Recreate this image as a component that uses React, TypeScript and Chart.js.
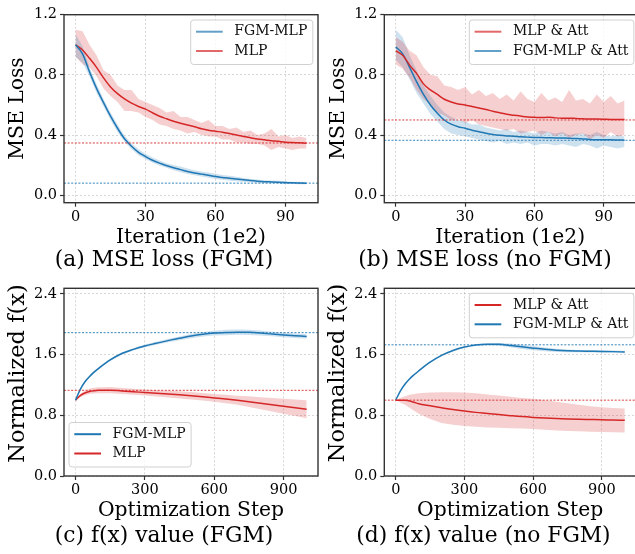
import React, { useEffect, useRef } from "react";
import { Chart, registerables } from "chart.js";

Chart.register(...registerables);

const FONT = "'DejaVu Serif', 'Liberation Serif', serif";
const BLUE = "#1f77b4";
const RED = "#d62728";
const BLUE_BAND = "rgba(31,119,180,0.22)";
const RED_BAND = "rgba(214,39,40,0.22)";

// ---------- shared axis ticks ----------
const lossXTicks = [0, 30, 60, 90];
const lossXTickLabels = ["0", "30", "60", "90"];
const lossYTicks = [0, 0.4, 0.8, 1.2];
const lossYTickLabels = ["0.0", "0.4", "0.8", "1.2"];
const fxXTicks = [0, 300, 600, 900];
const fxXTickLabels = ["0", "300", "600", "900"];
const fxYTicks = [0, 0.8, 1.6, 2.4];
const fxYTickLabels = ["0.0", "0.8", "1.6", "2.4"];

// ---------- panel (a) & (b): iterations (1e2) ----------
const lossIters = [0, 3, 6, 9, 12, 15, 18, 21, 24, 27, 30, 33, 36, 39, 42, 45, 48, 51, 54, 57, 60, 63, 66, 69, 72, 75, 78, 81, 84, 87, 90, 93, 96, 99];

// (a) FGM-MLP
const aFgmMean = [1.0, 0.94, 0.82, 0.71, 0.615, 0.525, 0.445, 0.375, 0.325, 0.285, 0.257, 0.232, 0.213, 0.197, 0.182, 0.17, 0.158, 0.148, 0.14, 0.132, 0.124, 0.118, 0.112, 0.107, 0.102, 0.097, 0.093, 0.09, 0.088, 0.086, 0.084, 0.082, 0.081, 0.08];
const aFgmUpper = [1.07, 0.99, 0.85, 0.74, 0.64, 0.55, 0.47, 0.395, 0.345, 0.305, 0.275, 0.25, 0.23, 0.213, 0.2, 0.19, 0.178, 0.165, 0.158, 0.15, 0.142, 0.134, 0.13, 0.122, 0.115, 0.108, 0.104, 0.1, 0.098, 0.096, 0.093, 0.09, 0.09, 0.088];
const aFgmLower = [0.92, 0.88, 0.79, 0.68, 0.59, 0.5, 0.42, 0.355, 0.305, 0.265, 0.24, 0.215, 0.197, 0.183, 0.166, 0.152, 0.14, 0.132, 0.124, 0.116, 0.108, 0.103, 0.096, 0.093, 0.09, 0.086, 0.083, 0.081, 0.079, 0.077, 0.075, 0.074, 0.073, 0.072];
// (a) MLP
const aMlpMean = [1.0, 0.965, 0.91, 0.85, 0.78, 0.72, 0.675, 0.64, 0.612, 0.59, 0.572, 0.548, 0.525, 0.508, 0.492, 0.478, 0.466, 0.455, 0.442, 0.432, 0.425, 0.419, 0.41, 0.4, 0.39, 0.382, 0.374, 0.368, 0.362, 0.358, 0.352, 0.35, 0.348, 0.346];
const aMlpUpper = [1.1, 1.09, 1.0, 0.93, 0.83, 0.8, 0.73, 0.7, 0.7, 0.64, 0.62, 0.6, 0.58, 0.55, 0.56, 0.52, 0.52, 0.5, 0.48, 0.5, 0.46, 0.46, 0.44, 0.45, 0.42, 0.43, 0.4, 0.41, 0.44, 0.39, 0.4, 0.38, 0.39, 0.38];
const aMlpLower = [0.92, 0.87, 0.85, 0.79, 0.71, 0.66, 0.62, 0.56, 0.56, 0.55, 0.52, 0.5, 0.47, 0.46, 0.44, 0.43, 0.41, 0.42, 0.4, 0.39, 0.39, 0.37, 0.37, 0.35, 0.35, 0.34, 0.34, 0.33, 0.3, 0.32, 0.31, 0.3, 0.31, 0.31];
const aRefValues = [0.08, 0.347];

// (b) FGM-MLP & Att
const bFgmMean = [0.985, 0.94, 0.85, 0.755, 0.67, 0.6, 0.545, 0.5, 0.472, 0.455, 0.445, 0.432, 0.422, 0.412, 0.404, 0.398, 0.394, 0.392, 0.388, 0.386, 0.384, 0.383, 0.382, 0.381, 0.38, 0.379, 0.377, 0.374, 0.371, 0.369, 0.368, 0.368, 0.367, 0.366];
const bFgmUpper = [1.1, 1.05, 0.93, 0.83, 0.73, 0.66, 0.6, 0.55, 0.52, 0.5, 0.49, 0.47, 0.47, 0.45, 0.44, 0.43, 0.44, 0.42, 0.43, 0.42, 0.41, 0.43, 0.42, 0.41, 0.42, 0.4, 0.41, 0.41, 0.4, 0.42, 0.4, 0.39, 0.4, 0.39];
const bFgmLower = [0.9, 0.85, 0.77, 0.68, 0.61, 0.54, 0.49, 0.44, 0.41, 0.4, 0.39, 0.38, 0.37, 0.36, 0.35, 0.36, 0.34, 0.35, 0.34, 0.35, 0.33, 0.34, 0.34, 0.33, 0.34, 0.33, 0.32, 0.34, 0.33, 0.31, 0.33, 0.32, 0.31, 0.32];
// (b) MLP & Att
const bMlpMean = [0.96, 0.93, 0.865, 0.81, 0.74, 0.7, 0.67, 0.638, 0.62, 0.606, 0.6, 0.59, 0.58, 0.57, 0.558, 0.548, 0.538, 0.532, 0.526, 0.52, 0.518, 0.516, 0.518, 0.514, 0.512, 0.512, 0.51, 0.508, 0.506, 0.506, 0.505, 0.503, 0.504, 0.503];
const bMlpUpper = [1.05, 1.02, 0.96, 0.93, 0.85, 0.8, 0.79, 0.73, 0.72, 0.7, 0.72, 0.67, 0.7, 0.66, 0.68, 0.64, 0.67, 0.63, 0.69, 0.64, 0.62, 0.68, 0.63, 0.65, 0.62, 0.7, 0.63, 0.64, 0.61, 0.67, 0.62, 0.66, 0.61, 0.63];
const bMlpLower = [0.87, 0.84, 0.78, 0.7, 0.64, 0.6, 0.55, 0.53, 0.5, 0.51, 0.48, 0.5, 0.47, 0.46, 0.45, 0.44, 0.43, 0.44, 0.41, 0.42, 0.43, 0.4, 0.42, 0.39, 0.41, 0.38, 0.4, 0.41, 0.37, 0.4, 0.38, 0.42, 0.39, 0.4];
const bRefValues = [0.5, 0.365];

// ---------- panel (c) & (d): optimization steps ----------
const fxSteps = [0, 20, 40, 60, 80, 100, 150, 200, 250, 300, 350, 400, 450, 500, 550, 600, 650, 700, 750, 800, 850, 900, 950, 1000];

// (c) FGM-MLP
const cFgmMean = [1.0, 1.14, 1.24, 1.31, 1.37, 1.42, 1.53, 1.615, 1.67, 1.715, 1.75, 1.785, 1.815, 1.845, 1.868, 1.884, 1.892, 1.896, 1.894, 1.885, 1.872, 1.86, 1.85, 1.84];
const cFgmUpper = [1.0, 1.15, 1.252, 1.325, 1.385, 1.435, 1.545, 1.63, 1.685, 1.733, 1.77, 1.807, 1.84, 1.873, 1.898, 1.916, 1.927, 1.931, 1.929, 1.918, 1.902, 1.89, 1.88, 1.87];
const cFgmLower = [1.0, 1.13, 1.228, 1.295, 1.355, 1.405, 1.515, 1.6, 1.655, 1.697, 1.73, 1.763, 1.79, 1.817, 1.838, 1.852, 1.857, 1.861, 1.859, 1.852, 1.842, 1.83, 1.82, 1.81];
// (c) MLP
const cMlpMean = [1.0, 1.06, 1.095, 1.115, 1.125, 1.13, 1.132, 1.122, 1.112, 1.1, 1.09, 1.08, 1.07, 1.058, 1.045, 1.03, 1.015, 0.998, 0.98, 0.96, 0.94, 0.92, 0.9, 0.88];
const cMlpUpper = [1.0, 1.08, 1.125, 1.15, 1.163, 1.17, 1.172, 1.162, 1.152, 1.14, 1.132, 1.125, 1.117, 1.108, 1.095, 1.08, 1.07, 1.058, 1.05, 1.04, 1.03, 1.02, 1.01, 1.0];
const cMlpLower = [1.0, 1.04, 1.065, 1.08, 1.087, 1.09, 1.092, 1.082, 1.072, 1.06, 1.048, 1.035, 1.023, 1.008, 0.995, 0.98, 0.96, 0.938, 0.91, 0.88, 0.85, 0.82, 0.79, 0.76];
const cRefValues = [1.89, 1.13];

// (d) FGM-MLP & Att
const dFgmMean = [1.0, 1.12, 1.21, 1.28, 1.335, 1.385, 1.5, 1.59, 1.655, 1.7, 1.728, 1.738, 1.736, 1.722, 1.703, 1.686, 1.67, 1.657, 1.65, 1.647, 1.645, 1.643, 1.64, 1.635];
const dFgmUpper = [1.0, 1.128, 1.22, 1.29, 1.345, 1.395, 1.51, 1.602, 1.667, 1.712, 1.74, 1.752, 1.754, 1.746, 1.73, 1.714, 1.695, 1.679, 1.668, 1.663, 1.66, 1.658, 1.655, 1.65];
const dFgmLower = [1.0, 1.112, 1.2, 1.27, 1.325, 1.375, 1.49, 1.578, 1.643, 1.688, 1.716, 1.724, 1.718, 1.698, 1.676, 1.658, 1.645, 1.635, 1.632, 1.631, 1.63, 1.628, 1.625, 1.62];
// (d) MLP & Att
const dMlpMean = [1.0, 1.0, 0.998, 0.99, 0.972, 0.952, 0.925, 0.9, 0.876, 0.856, 0.839, 0.825, 0.81, 0.796, 0.783, 0.773, 0.765, 0.758, 0.752, 0.748, 0.745, 0.742, 0.738, 0.735];
const dMlpUpper = [1.0, 1.03, 1.05, 1.07, 1.08, 1.09, 1.1, 1.105, 1.105, 1.1, 1.09, 1.075, 1.06, 1.045, 1.03, 1.02, 1.0, 0.98, 0.96, 0.94, 0.92, 0.905, 0.895, 0.89];
const dMlpLower = [1.0, 0.97, 0.94, 0.9, 0.86, 0.82, 0.75, 0.7, 0.675, 0.66, 0.65, 0.64, 0.635, 0.63, 0.625, 0.62, 0.61, 0.6, 0.595, 0.59, 0.585, 0.58, 0.578, 0.575];
const dRefValues = [1.73, 1.0];

// ---------- types ----------
interface Series {
  label: string;
  color: string;
  band: string;
  x: number[];
  mean: number[];
  upper: number[];
  lower: number[];
}
interface Panel {
  id: string;
  caption: string;
  captionX: number;
  captionY: number;
  plot: { l: number; t: number; r: number; b: number };
  xMin: number;
  xMax: number;
  yMin: number;
  yMax: number;
  xTicks: number[];
  xTickLabels: string[];
  yTicks: number[];
  yTickLabels: string[];
  xTitle: string;
  yTitle: string;
  yTitleY: number;
  yTitleSize: number;
  series: Series[];
  refs: { value: number; color: string }[];
  legendItems: { label: string; color: string; alpha: number }[];
  legendPos: { left: number; top: number };
}

const panels: Panel[] = [
  {
    id: "a",
    caption: "(a) MSE loss (FGM)",
    captionX: 164,
    captionY: 259,
    plot: { l: 64, t: 14.7, r: 318, b: 202.7 },
    xMin: -4.95, xMax: 103.95, yMin: -0.05, yMax: 1.2,
    xTicks: lossXTicks, xTickLabels: lossXTickLabels,
    yTicks: lossYTicks, yTickLabels: lossYTickLabels,
    xTitle: "Iteration (1e2)", yTitle: "MSE Loss", yTitleY: 108.5, yTitleSize: 20.3,
    series: [
      { label: "FGM-MLP", color: BLUE, band: BLUE_BAND, x: lossIters, mean: aFgmMean, upper: aFgmUpper, lower: aFgmLower },
      { label: "MLP", color: RED, band: RED_BAND, x: lossIters, mean: aMlpMean, upper: aMlpUpper, lower: aMlpLower },
    ],
    refs: [{ value: aRefValues[0], color: BLUE }, { value: aRefValues[1], color: RED }],
    legendItems: [{ label: "FGM-MLP", color: BLUE, alpha: 0.7 }, { label: "MLP", color: RED, alpha: 0.7 }],
    legendPos: { left: 190.7, top: 20 },
  },
  {
    id: "b",
    caption: "(b) MSE loss (no FGM)",
    captionX: 485,
    captionY: 258.5,
    plot: { l: 384.3, t: 14.7, r: 636, b: 202.7 },
    xMin: -4.95, xMax: 103.95, yMin: -0.05, yMax: 1.2,
    xTicks: lossXTicks, xTickLabels: lossXTickLabels,
    yTicks: lossYTicks, yTickLabels: lossYTickLabels,
    xTitle: "Iteration (1e2)", yTitle: "MSE Loss", yTitleY: 108.5, yTitleSize: 20.3,
    series: [
      { label: "MLP & Att", color: RED, band: RED_BAND, x: lossIters, mean: bMlpMean, upper: bMlpUpper, lower: bMlpLower },
      { label: "FGM-MLP & Att", color: BLUE, band: BLUE_BAND, x: lossIters, mean: bFgmMean, upper: bFgmUpper, lower: bFgmLower },
    ],
    refs: [{ value: bRefValues[0], color: RED }, { value: bRefValues[1], color: BLUE }],
    legendItems: [{ label: "MLP & Att", color: RED, alpha: 0.7 }, { label: "FGM-MLP & Att", color: BLUE, alpha: 0.7 }],
    legendPos: { left: 469.3, top: 20 },
  },
  {
    id: "c",
    caption: "(c) f(x) value (FGM)",
    captionX: 164,
    captionY: 535,
    plot: { l: 64, t: 288.3, r: 318, b: 476 },
    xMin: -49.95, xMax: 1048.95, yMin: 0, yMax: 2.475,
    xTicks: fxXTicks, xTickLabels: fxXTickLabels,
    yTicks: fxYTicks, yTickLabels: fxYTickLabels,
    xTitle: "Optimization Step", yTitle: "Normalized f(x)", yTitleY: 373.5, yTitleSize: 22.5,
    series: [
      { label: "FGM-MLP", color: BLUE, band: BLUE_BAND, x: fxSteps, mean: cFgmMean, upper: cFgmUpper, lower: cFgmLower },
      { label: "MLP", color: RED, band: RED_BAND, x: fxSteps, mean: cMlpMean, upper: cMlpUpper, lower: cMlpLower },
    ],
    refs: [{ value: cRefValues[0], color: BLUE }, { value: cRefValues[1], color: RED }],
    legendItems: [{ label: "FGM-MLP", color: BLUE, alpha: 1 }, { label: "MLP", color: RED, alpha: 1 }],
    legendPos: { left: 69, top: 422.5 },
  },
  {
    id: "d",
    caption: "(d) f(x) value (no FGM)",
    captionX: 483.5,
    captionY: 535,
    plot: { l: 384.3, t: 288.3, r: 636, b: 476 },
    xMin: -49.95, xMax: 1048.95, yMin: 0, yMax: 2.475,
    xTicks: fxXTicks, xTickLabels: fxXTickLabels,
    yTicks: fxYTicks, yTickLabels: fxYTickLabels,
    xTitle: "Optimization Step", yTitle: "Normalized f(x)", yTitleY: 373, yTitleSize: 22.5,
    series: [
      { label: "MLP & Att", color: RED, band: RED_BAND, x: fxSteps, mean: dMlpMean, upper: dMlpUpper, lower: dMlpLower },
      { label: "FGM-MLP & Att", color: BLUE, band: BLUE_BAND, x: fxSteps, mean: dFgmMean, upper: dFgmUpper, lower: dFgmLower },
    ],
    refs: [{ value: dRefValues[0], color: BLUE }, { value: dRefValues[1], color: RED }],
    legendItems: [{ label: "MLP & Att", color: RED, alpha: 1 }, { label: "FGM-MLP & Att", color: BLUE, alpha: 1 }],
    legendPos: { left: 469.3, top: 293.3 },
  },
];

const TICK_SIZE = 14.5;
const TITLE_SIZE = 20.3;
const LEGEND_SIZE = 14;
const CAPTION_SIZE = 21.8;

function geometry(p: Panel) {
  const cl = Math.floor(p.plot.l - 64);
  const ct = Math.max(0, Math.floor(p.plot.t - 20));
  const cr = Math.ceil(p.plot.r + 2);
  const cb = Math.ceil(p.plot.b + 48);
  return {
    cl, ct, w: cr - cl, h: cb - ct,
    yAxisW: p.plot.l - cl,
    padTop: p.plot.t - ct,
    padRight: cr - p.plot.r,
    xAxisH: cb - p.plot.b,
  };
}

const mplPlugin = {
  id: "mpl",
  afterDatasetsDraw(chart: any, _a: any, opts: any) {
    const { ctx, chartArea } = chart;
    const ys = chart.scales.y;
    ctx.save();
    ctx.beginPath();
    ctx.rect(chartArea.left, chartArea.top, chartArea.right - chartArea.left, chartArea.bottom - chartArea.top);
    ctx.clip();
    ctx.lineWidth = 1;
    ctx.setLineDash([2, 1.6]);
    for (const r of opts.refs) {
      const y = ys.getPixelForValue(r.value);
      ctx.strokeStyle = r.color;
      ctx.globalAlpha = 0.9;
      ctx.beginPath();
      ctx.moveTo(chartArea.left, y);
      ctx.lineTo(chartArea.right, y);
      ctx.stroke();
    }
    ctx.restore();
  },
  afterDraw(chart: any, _a: any, opts: any) {
    const { ctx, chartArea } = chart;
    ctx.save();
    // frame
    ctx.strokeStyle = "#333";
    ctx.lineWidth = 1.4;
    ctx.strokeRect(chartArea.left, chartArea.top, chartArea.right - chartArea.left, chartArea.bottom - chartArea.top);
    // y title
    ctx.save();
    ctx.translate(opts.yTitleX, opts.yTitleY);
    ctx.rotate(-Math.PI / 2);
    ctx.font = `${opts.yTitleSize}px ${FONT}`;
    ctx.fillStyle = "#000";
    ctx.textAlign = "center";
    ctx.textBaseline = "middle";
    ctx.fillText(opts.yTitle, 0, 0);
    ctx.restore();
    // legend
    const items = opts.legendItems;
    ctx.font = `${LEGEND_SIZE}px ${FONT}`;
    let tw = 0;
    for (const it of items) tw = Math.max(tw, ctx.measureText(it.label).width);
    const left = opts.legendLeft;
    const top = opts.legendTop;
    const w = 5.3 + 26.7 + 11.6 + tw + 5.5;
    const h = 44.5;
    const r = 3;
    ctx.beginPath();
    ctx.moveTo(left + r, top);
    ctx.lineTo(left + w - r, top);
    ctx.arcTo(left + w, top, left + w, top + r, r);
    ctx.lineTo(left + w, top + h - r);
    ctx.arcTo(left + w, top + h, left + w - r, top + h, r);
    ctx.lineTo(left + r, top + h);
    ctx.arcTo(left, top + h, left, top + h - r, r);
    ctx.lineTo(left, top + r);
    ctx.arcTo(left, top, left + r, top, r);
    ctx.closePath();
    ctx.fillStyle = "rgba(255,255,255,0.8)";
    ctx.fill();
    ctx.strokeStyle = "#d0d0d0";
    ctx.lineWidth = 1;
    ctx.stroke();
    items.forEach((it: any, k: number) => {
      const cy = top + 11.7 + k * 19.3;
      ctx.globalAlpha = it.alpha;
      ctx.strokeStyle = it.color;
      ctx.lineWidth = 2;
      ctx.beginPath();
      ctx.moveTo(left + 5.3, cy);
      ctx.lineTo(left + 32, cy);
      ctx.stroke();
      ctx.globalAlpha = 1;
      ctx.fillStyle = "#111";
      ctx.textAlign = "left";
      ctx.textBaseline = "middle";
      ctx.fillText(it.label, left + 43.6, cy);
    });
    ctx.restore();
  },
};

function PanelChart({ p }: { p: Panel }) {
  const ref = useRef<HTMLCanvasElement | null>(null);
  const g = geometry(p);
  useEffect(() => {
    if (!ref.current) return;
    const datasets: any[] = [];
    p.series.forEach((s) => {
      const lowerIdx = datasets.length;
      datasets.push({
        label: s.label + " lower",
        data: s.x.map((x, i) => ({ x, y: s.lower[i] })),
        borderWidth: 0,
        pointRadius: 0,
        fill: false,
        order: 2,
      });
      datasets.push({
        label: s.label + " upper",
        data: s.x.map((x, i) => ({ x, y: s.upper[i] })),
        borderWidth: 0,
        pointRadius: 0,
        backgroundColor: s.band,
        fill: { target: lowerIdx },
        order: 1,
      });
    });
    p.series.forEach((s) => {
      datasets.push({
        label: s.label,
        data: s.x.map((x, i) => ({ x, y: s.mean[i] })),
        borderColor: s.color,
        borderWidth: 1.5,
        pointRadius: 0,
        fill: false,
        cubicInterpolationMode: "monotone",
        order: 0,
      });
    });
    const tickFont = { family: FONT, size: TICK_SIZE };
    const lh = TITLE_SIZE * 1.2;
    const chart = new Chart(ref.current, {
      type: "line",
      data: { datasets },
      plugins: [mplPlugin as any],
      options: {
        animation: false,
        responsive: false,
        devicePixelRatio: 1,
        events: [],
        layout: { padding: { top: g.padTop, right: g.padRight, left: 0, bottom: 0 } },
        plugins: {
          legend: { display: false },
          tooltip: { enabled: false },
          mpl: {
            refs: p.refs,
            yTitle: p.yTitle,
            yTitleSize: p.yTitleSize,
            yTitleX: p.plot.l - 46 - g.cl,
            yTitleY: p.yTitleY - g.ct,
            legendItems: p.legendItems,
            legendLeft: p.legendPos.left - g.cl,
            legendTop: p.legendPos.top - g.ct,
          },
        } as any,
        scales: {
          x: {
            type: "linear",
            min: p.xMin,
            max: p.xMax,
            afterBuildTicks: (s: any) => {
              s.ticks = p.xTicks.map((v) => ({ value: v }));
            },
            afterFit: (s: any) => {
              s.height = g.xAxisH;
            },
            ticks: {
              autoSkip: false,
              maxRotation: 0,
              padding: 1.5,
              color: "#000",
              font: tickFont,
              callback: (_v: any, i: number) => p.xTickLabels[i],
            },
            grid: { color: "rgba(0,0,0,0.2)", lineWidth: 0.8, tickColor: "#333", tickLength: 4, tickWidth: 1.2 },
            border: { display: false, dash: [2, 2] },
            title: {
              display: true,
              text: p.xTitle,
              color: "#000",
              font: { family: FONT, size: TITLE_SIZE },
              padding: { top: 0, bottom: g.xAxisH - 35 - lh / 2 },
            },
          },
          y: {
            type: "linear",
            min: p.yMin,
            max: p.yMax,
            afterBuildTicks: (s: any) => {
              s.ticks = p.yTicks.map((v) => ({ value: v }));
            },
            afterFit: (s: any) => {
              s.width = g.yAxisW;
            },
            ticks: {
              autoSkip: false,
              padding: 3,
              color: "#000",
              font: tickFont,
              callback: (_v: any, i: number) => p.yTickLabels[i],
            },
            grid: { color: "rgba(0,0,0,0.2)", lineWidth: 0.8, tickColor: "#333", tickLength: 4, tickWidth: 1.2 },
            border: { display: false, dash: [2, 2] },
          },
        },
      } as any,
    });
    return () => chart.destroy();
  }, []);
  return (
    <canvas
      ref={ref}
      width={g.w}
      height={g.h}
      style={{ position: "absolute", left: g.cl, top: g.ct, width: g.w, height: g.h }}
    />
  );
}

export default function App() {
  return (
    <div
      style={{
        position: "absolute",
        left: 0,
        top: 0,
        width: 635,
        height: 554,
        overflow: "hidden",
        background: "#fff",
      }}
    >
      {panels.map((p) => (
        <PanelChart key={p.id} p={p} />
      ))}
      {panels.map((p) => (
        <div
          key={"cap" + p.id}
          style={{
            position: "absolute",
            left: p.captionX - 160,
            width: 320,
            top: p.captionY - 13,
            height: 26,
            lineHeight: "26px",
            textAlign: "center",
            fontFamily: FONT,
            fontSize: CAPTION_SIZE,
            color: "#000",
            whiteSpace: "nowrap",
          }}
        >
          {p.caption}
        </div>
      ))}
    </div>
  );
}
